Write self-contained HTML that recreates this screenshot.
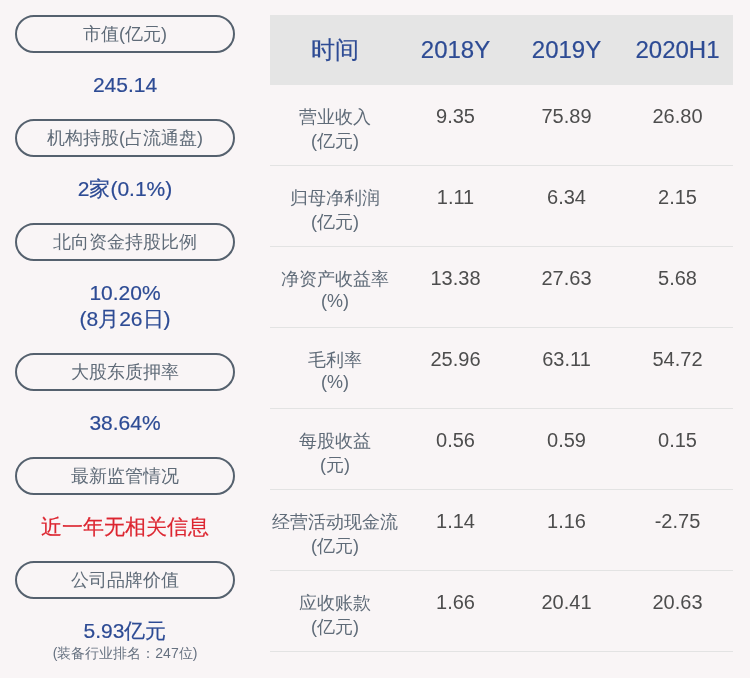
<!DOCTYPE html>
<html><head><meta charset="utf-8">
<style>
html,body{margin:0;padding:0;}
body{width:750px;height:678px;background:#f9f5f6;font-family:"Liberation Sans",sans-serif;position:relative;overflow:hidden;}
.pill{position:absolute;will-change:transform;left:15px;width:216px;height:34px;border:2px solid #55616e;border-radius:20px;color:#5f6b78;font-size:18px;line-height:34px;text-align:center;}
.val{position:absolute;will-change:transform;left:0;width:250px;text-align:center;color:#2d4b94;font-size:21px;line-height:24px;-webkit-text-stroke:0.2px #2d4b94;}
.red{color:#dc2530;-webkit-text-stroke:0.2px #dc2530;}
.small{position:absolute;will-change:transform;left:0;width:250px;text-align:center;color:#667180;font-size:14px;line-height:18px;}
.hdr{position:absolute;left:270px;top:15px;width:463px;height:70px;background:#e5e5e5;}
.hc{position:absolute;will-change:transform;top:15px;height:70px;line-height:70px;text-align:center;color:#2d4b94;font-size:24px;-webkit-text-stroke:0.2px #2d4b94;}
.row{position:absolute;will-change:transform;left:270px;width:463px;height:80px;border-bottom:1px solid #e3e3e3;}
.lab{position:absolute;left:0;width:130px;top:20px;text-align:center;color:#5f6b78;font-size:18px;line-height:24px;}
.lab span{position:relative;top:-2px;}
.num{position:absolute;top:19px;width:111px;text-align:center;color:#4d4d4d;font-size:20px;line-height:24px;}
.c1{left:130px}.c2{left:241px}.c3{left:352px}
</style></head><body>
<div class="pill" style="top:15px">市值(亿元)</div>
<div class="val" style="top:73px">245.14</div>
<div class="pill" style="top:119px">机构持股(占流通盘)</div>
<div class="val" style="top:177px">2家(0.1%)</div>
<div class="pill" style="top:223px">北向资金持股比例</div>
<div class="val" style="top:281px">10.20%</div>
<div class="val" style="top:307px">(8月26日)</div>
<div class="pill" style="top:353px">大股东质押率</div>
<div class="val" style="top:411px">38.64%</div>
<div class="pill" style="top:457px">最新监管情况</div>
<div class="val red" style="top:515px">近一年无相关信息</div>
<div class="pill" style="top:561px">公司品牌价值</div>
<div class="val" style="top:619px">5.93亿元</div>
<div class="small" style="top:644px">(装备行业排名：247位)</div>

<div class="hdr"></div>
<div class="hc" style="left:270px;width:130px">时间</div>
<div class="hc" style="left:400px;width:111px">2018Y</div>
<div class="hc" style="left:511px;width:111px">2019Y</div>
<div class="hc" style="left:622px;width:111px">2020H1</div>

<div class="row" style="top:85px"><div class="lab">营业收入<br>(亿元)</div><div class="num c1">9.35</div><div class="num c2">75.89</div><div class="num c3">26.80</div></div>
<div class="row" style="top:166px"><div class="lab">归母净利润<br>(亿元)</div><div class="num c1">1.11</div><div class="num c2">6.34</div><div class="num c3">2.15</div></div>
<div class="row" style="top:247px"><div class="lab">净资产收益率<br><span>(%)</span></div><div class="num c1">13.38</div><div class="num c2">27.63</div><div class="num c3">5.68</div></div>
<div class="row" style="top:328px"><div class="lab">毛利率<br><span>(%)</span></div><div class="num c1">25.96</div><div class="num c2">63.11</div><div class="num c3">54.72</div></div>
<div class="row" style="top:409px"><div class="lab">每股收益<br>(元)</div><div class="num c1">0.56</div><div class="num c2">0.59</div><div class="num c3">0.15</div></div>
<div class="row" style="top:490px"><div class="lab">经营活动现金流<br>(亿元)</div><div class="num c1">1.14</div><div class="num c2">1.16</div><div class="num c3">-2.75</div></div>
<div class="row" style="top:571px"><div class="lab">应收账款<br>(亿元)</div><div class="num c1">1.66</div><div class="num c2">20.41</div><div class="num c3">20.63</div></div>
</body></html>
